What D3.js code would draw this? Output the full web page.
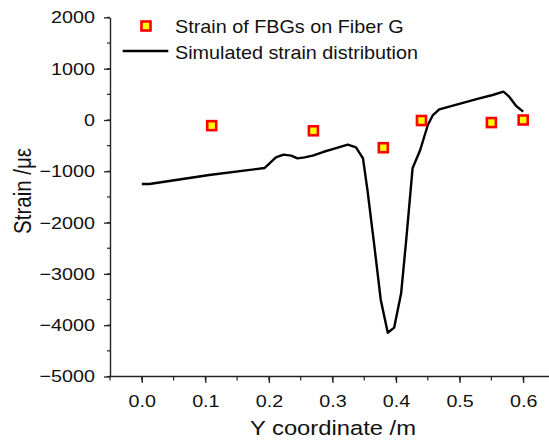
<!DOCTYPE html>
<html>
<head>
<meta charset="utf-8">
<script src="https://cdn.jsdelivr.net/npm/d3@7"></script>
<style>
  html, body { margin: 0; padding: 0; background: #fff; }
  svg { display: block; font-family: "Liberation Sans", Arial, sans-serif; }
</style>
</head>
<body>
<svg id="chart" width="549" height="442"></svg>
<script>
// Measured FBG strain on fiber G
const fbgY = [0.11, 0.27, 0.38, 0.44, 0.55, 0.60];
const fbgStrain = [-110, -210, -540, -10, -50, 0];

// Simulated strain distribution along the fiber
const simY = [0.000, 0.012, 0.106, 0.193, 0.211, 0.223, 0.235, 0.245, 0.256, 0.269,
              0.285, 0.303, 0.324, 0.337, 0.348, 0.355, 0.366, 0.376, 0.387, 0.397,
              0.408, 0.416, 0.426, 0.438, 0.450, 0.458, 0.468, 0.531, 0.552, 0.569,
              0.578, 0.589, 0.600];
const simStrain = [-1248, -1248, -1072, -936, -728, -676, -695, -747, -728, -695,
                   -624, -559, -481, -533, -747, -1364, -2469, -3509, -4146, -4048,
                   -3379, -2339, -942, -585, -97, 97, 208, 423, 487, 552,
                   454, 273, 162];

const xTicks = [0.0, 0.1, 0.2, 0.3, 0.4, 0.5, 0.6];
const yTicks = [2000, 1000, 0, -1000, -2000, -3000, -4000, -5000];
const legendLabels = ["Strain of FBGs on Fiber G", "Simulated strain distribution"];

const svg = d3.select("#chart");
const SX = 1.16; // horizontal glyph stretch

const x = d3.scaleLinear().domain([-0.05, 0.64]).range([110, 548.6]);
const y = d3.scaleLinear().domain([-5000, 2000]).range([376.5, 17.4]);

const axisColor = "#222";

// minor ticks
const xMinor = d3.range(-0.05, 0.6001, 0.05).map(v => +v.toFixed(2));
const yMinor = d3.range(-5000, 2001, 500);

const gx = svg.append("g").attr("transform", `translate(0,${y(-5000)})`);
gx.selectAll("line.minor").data(xMinor).join("line")
  .attr("x1", d => x(d)).attr("x2", d => x(d))
  .attr("y1", 0).attr("y2", 4)
  .attr("stroke", axisColor).attr("stroke-width", 1.2);
gx.call(d3.axisBottom(x).tickValues(xTicks).tickFormat(d3.format(".1f"))
    .tickSizeInner(6.5).tickSizeOuter(0).tickPadding(11.5));

const gy = svg.append("g").attr("transform", `translate(${x(-0.05)},0)`);
gy.selectAll("line.minor").data(yMinor).join("line")
  .attr("x1", 0).attr("x2", -3)
  .attr("y1", d => y(d)).attr("y2", d => y(d))
  .attr("stroke", axisColor).attr("stroke-width", 1.2);
gy.call(d3.axisLeft(y).tickValues(yTicks).tickFormat(d3.format("d"))
    .tickSizeInner(6).tickSizeOuter(0).tickPadding(7));

[gx, gy].forEach(g => {
  g.select(".domain").attr("stroke", axisColor).attr("stroke-width", 1.4);
  g.selectAll(".tick line").attr("stroke", axisColor).attr("stroke-width", 1.3);
  g.selectAll(".tick text")
    .attr("fill", "#111")
    .attr("font-size", 17)
    .attr("font-family", "Liberation Sans, Arial, sans-serif")
    .attr("transform", `scale(${SX},1)`);
});
gx.select(".domain").attr("d", `M${x(-0.05)},0H549`);

// axis titles
svg.append("text")
  .attr("transform", `translate(333,435) scale(${SX},1)`)
  .attr("text-anchor", "middle")
  .attr("font-size", 20.5).attr("fill", "#111")
  .text("Y coordinate /m");

svg.append("text")
  .attr("transform", `translate(31,191) rotate(-90) scale(1,${SX})`)
  .attr("text-anchor", "middle")
  .attr("font-size", 20.5).attr("fill", "#111")
  .text("Strain /με");

// simulated line
const line = d3.line().x(d => x(d[0])).y(d => y(d[1]));
svg.append("path")
  .datum(d3.zip(simY, simStrain))
  .attr("d", line)
  .attr("fill", "none")
  .attr("stroke", "#000")
  .attr("stroke-width", 2.4)
  .attr("stroke-linejoin", "round");

// FBG markers
const ms = 9;
svg.selectAll("rect.fbg").data(d3.zip(fbgY, fbgStrain)).join("rect")
  .attr("class", "fbg")
  .attr("x", d => x(d[0]) - ms / 2)
  .attr("y", d => y(d[1]) - ms / 2)
  .attr("width", ms).attr("height", ms)
  .attr("fill", "#ffff00")
  .attr("stroke", "#ff0000")
  .attr("stroke-width", 2.6);

// legend
const lg = svg.append("g");
lg.append("rect")
  .attr("x", 146 - ms / 2).attr("y", 26 - ms / 2)
  .attr("width", ms).attr("height", ms)
  .attr("fill", "#ffff00").attr("stroke", "#ff0000").attr("stroke-width", 2.6);
lg.append("line")
  .attr("x1", 122.7).attr("x2", 168.3).attr("y1", 51).attr("y2", 51)
  .attr("stroke", "#000").attr("stroke-width", 2.4);
lg.selectAll("text").data(legendLabels).join("text")
  .attr("transform", (d, i) => `translate(175,${i === 0 ? 32.7 : 59})`)
  .attr("font-size", 18).attr("fill", "#111")
  .append("tspan")
  .attr("transform", `scale(1.1,1)`)
  .text(d => d);
lg.selectAll("text").attr("transform", (d, i) => `translate(175,${i === 0 ? 32.7 : 59}) scale(1.1,1)`);
</script>
</body>
</html>
